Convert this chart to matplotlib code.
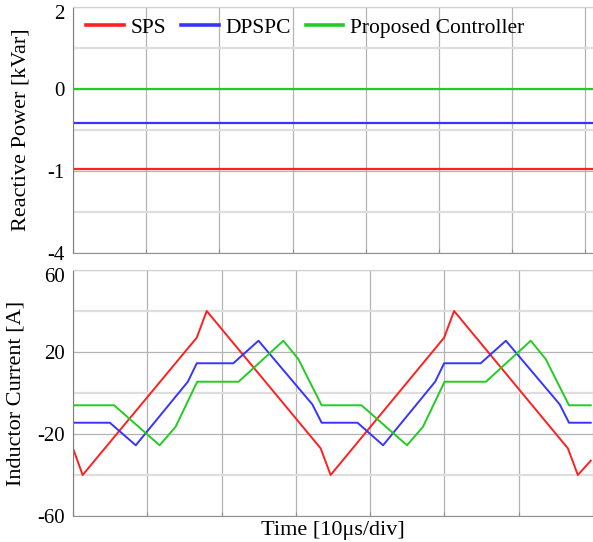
import matplotlib
matplotlib.use("Agg")
import matplotlib.pyplot as plt
from matplotlib.transforms import ScaledTranslation

plt.rcParams["font.family"] = ["Liberation Serif", "DejaVu Serif"]
plt.rcParams["axes.unicode_minus"] = False

# top panel: reactive power, flat levels (axis units, labels are as printed)
series_names = ["SPS", "DPSPC", "Proposed Controller"]
series_colors = ["#ff2020", "#3535ff", "#22cc22"]
q_levels = [-1.94, -0.84, 0.0]
q_ticks = [2, 0, -2, -4]
q_ticklabels = ["2", "0", "-1", "-4"]

# bottom panel: inductor current, time in divisions
sps_t = [0.0, 0.13, 1.666, 1.80, 3.334, 3.468, 4.996, 5.13, 6.662, 6.796, 6.97]
sps_i = [-27, -40, 27, 40, -27, -40, 27, 40, -27, -40, -33]

dpspc_t = [0.0, 0.496, 0.845, 1.546, 1.666, 2.158, 2.497, 3.221, 3.347,
           3.83, 4.174, 4.875, 4.996, 5.488, 5.827, 6.551, 6.677, 6.97]
dpspc_i = [-14.5, -14.5, -25.5, 5.5, 14.5, 14.5, 25.5, -5.5, -14.5,
           -14.5, -25.5, 5.5, 14.5, 14.5, 25.5, -5.5, -14.5, -14.5]

prop_t = [0.0, 0.554, 1.166, 1.381, 1.672, 2.229, 2.832, 3.034, 3.347,
          3.884, 4.496, 4.711, 5.002, 5.559, 6.162, 6.364, 6.677, 6.97]
prop_i = [-6, -6, -25.5, -16.5, 5.5, 5.5, 25.5, 16.5, -6,
          -6, -25.5, -16.5, 5.5, 5.5, 25.5, 16.5, -6, -6]

i_ticks = [60, 20, -20, -60]
i_minor = [40, 0, -40]

W, H = 593, 542
fig = plt.figure(figsize=(W / 100, H / 100), dpi=100)
ax1 = fig.add_axes([73 / W, 1 - 253 / H, 1 - 73 / W, 246 / H])
ax2 = fig.add_axes([73 / W, 1 - 516 / H, 1 - 73 / W, 246 / H])

fs = 16
tfs = 15
major_c = "#b4b4b4"
minor_c = "#dedede"


def style_axes(ax, xmax):
    ax.set_xlim(0, xmax)
    ax.set_xticks(range(0, 8))
    ax.set_xticklabels([])
    ax.grid(True, axis="x", color=major_c, lw=0.9)
    ax.grid(True, axis="y", which="major", color=major_c, lw=0.9)
    ax.grid(True, axis="y", which="minor", color=minor_c, lw=1.6)
    ax.set_axisbelow(True)
    ax.tick_params(axis="y", which="both", length=0, pad=6, labelsize=tfs)
    ax.tick_params(axis="x", direction="in", length=3, color="#909090")
    ax.spines["right"].set_visible(False)
    ax.spines["left"].set_color("#808080")
    ax.spines["bottom"].set_color("#909090")
    ax.spines["top"].set_color("#d0d0d0")


def nudge_top_label(ax):
    # topmost tick label sits a little below the axes edge
    lab = ax.get_yticklabels()[0]
    lab.set_transform(lab.get_transform() + ScaledTranslation(0, -5 / 100, fig.dpi_scale_trans))


# top
for name, color, level in zip(series_names, series_colors, q_levels):
    ax1.axhline(level, color=color, lw=1.6, label=name)
ax1.set_ylim(-4, 2)
ax1.set_yticks(q_ticks)
ax1.set_yticklabels(q_ticklabels)
ax1.set_yticks([1, -1, -3], minor=True)
style_axes(ax1, 520 / 73.2)
ax1.set_ylabel("Reactive Power [kVar]", fontsize=fs, labelpad=12)
leg = ax1.legend(loc="upper left", bbox_to_anchor=(-0.012, 1.035), ncol=3, frameon=False,
                 fontsize=15.5, handlelength=1.75, handletextpad=0.3, columnspacing=0.7)
for line in leg.get_lines():
    line.set_linewidth(2.6)

# bottom
ax2.plot(sps_t, sps_i, color=series_colors[0], lw=1.4)
ax2.plot(dpspc_t, dpspc_i, color=series_colors[1], lw=1.4)
ax2.plot(prop_t, prop_i, color=series_colors[2], lw=1.4)
ax2.set_ylim(-60, 60)
ax2.set_yticks(i_ticks)
ax2.set_yticks(i_minor, minor=True)
style_axes(ax2, 520 / 74.6)
ax2.set_ylabel("Inductor Current [A]", fontsize=fs, labelpad=8)
ax2.set_xlabel("Time [10\u03bcs/div]", fontsize=fs, labelpad=0)

fig.canvas.draw()
nudge_top_label(ax1)
nudge_top_label(ax2)

fig.savefig("out.png", dpi=100)
